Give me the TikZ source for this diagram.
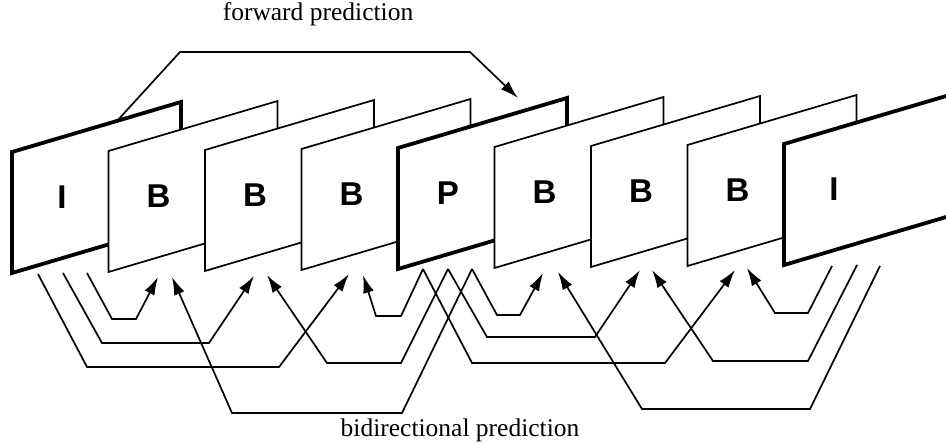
\documentclass[tikz,border=0pt]{standalone}
\usepackage{fontspec}
\setmainfont{Liberation Serif}
\newfontfamily\framefont{Liberation Sans}
\usetikzlibrary{arrows.meta}

\begin{document}
\begin{tikzpicture}[
  x=1pt, y=-1pt,
  >={Latex[length=18pt,width=11pt]},
  frame/.style={draw, fill=white, line width=1.7pt, line join=miter},
  keyframe/.style={frame, line width=3.8pt},
  pred/.style={->, line width=1.7pt},
  lett/.style={font=\framefont\bfseries\fontsize{33}{33}\selectfont, inner sep=0pt},
  caption/.style={font=\fontsize{25.5}{28}\selectfont, anchor=base}
]
\useasboundingbox (0,0) rectangle (946,443);
\clip (0,0) rectangle (946,443);

% frames, drawn back to front
\foreach \lab/\sty [count=\i from 0] in {I/keyframe,B/frame,B/frame,B/frame,P/keyframe,B/frame,B/frame,B/frame,I/keyframe}{
  \coordinate (f\i) at ({12+96.5*\i},{273-\i});
  \draw[\sty] (f\i) -- ++(0,-121) -- ++(169,-50) -- ++(0,121) -- cycle;
  \node[lett] (l\i) at ({62+96.5*\i},{197-\i}) {\lab};
}

% where the prediction lines leave the I, P and I frames
\coordinate (ia) at (87,273);
\coordinate (ib) at (63,273);
\coordinate (ic) at (38,274);
\coordinate (pa) at (472,269);
\coordinate (pb) at (448,269);
\coordinate (pc) at (423,269);
\coordinate (ja) at (832,266);
\coordinate (jb) at (857,265);
\coordinate (jc) at (880,266);

% arrow tips under the B frames: f from the left, b from the right
\coordinate (t1f) at (158,277);
\coordinate (t1b) at (172,277);
\coordinate (t2f) at (254,276);
\coordinate (t2b) at (267,275);
\coordinate (t3f) at (349,274);
\coordinate (t3b) at (363,275);
\coordinate (t4f) at (543,273);
\coordinate (t4b) at (558,272);
\coordinate (t5f) at (640,270);
\coordinate (t5b) at (652,270);
\coordinate (t6f) at (735,270);
\coordinate (t6b) at (747,268);

% I to P
\coordinate (fs) at (117,121);
\coordinate (ft) at (518,98);
\draw[pred] (fs) -- ++(63,-69) -- ++(290,0) -- (ft);
\node[caption] (fwd) at (318,21) {forward prediction};

% bidirectional
\draw[pred] (ia) -- ++(25,46) -- ++(24,0) -- (t1f);
\draw[pred] (ib) -- ++(39,70) -- ++(107,0) -- (t2f);
\draw[pred] (ic) -- ++(49,93) -- ++(192,0) -- (t3f);
\draw[pred] (pc) -- ++(-22,47) -- ++(-25,0) -- (t3b);
\draw[pred] (pb) -- ++(-47,94) -- ++(-74,0) -- (t2b);
\draw[pred] (pa) -- ++(-70,144) -- ++(-170,0) -- (t1b);
\draw[pred] (pa) -- ++(25,46) -- ++(23,0) -- (t4f);
\draw[pred] (pb) -- ++(39,68) -- ++(108,0) -- (t5f);
\draw[pred] (pc) -- ++(49,94) -- ++(193,0) -- (t6f);
\draw[pred] (ja) -- ++(-24,47) -- ++(-33,0) -- (t6b);
\draw[pred] (jb) -- ++(-49,96) -- ++(-95,0) -- (t5b);
\draw[pred] (jc) -- ++(-70,143) -- ++(-168,0) -- (t4b);
\node[caption] (bid) at (460,437) {bidirectional prediction};
\end{tikzpicture}
\end{document}
